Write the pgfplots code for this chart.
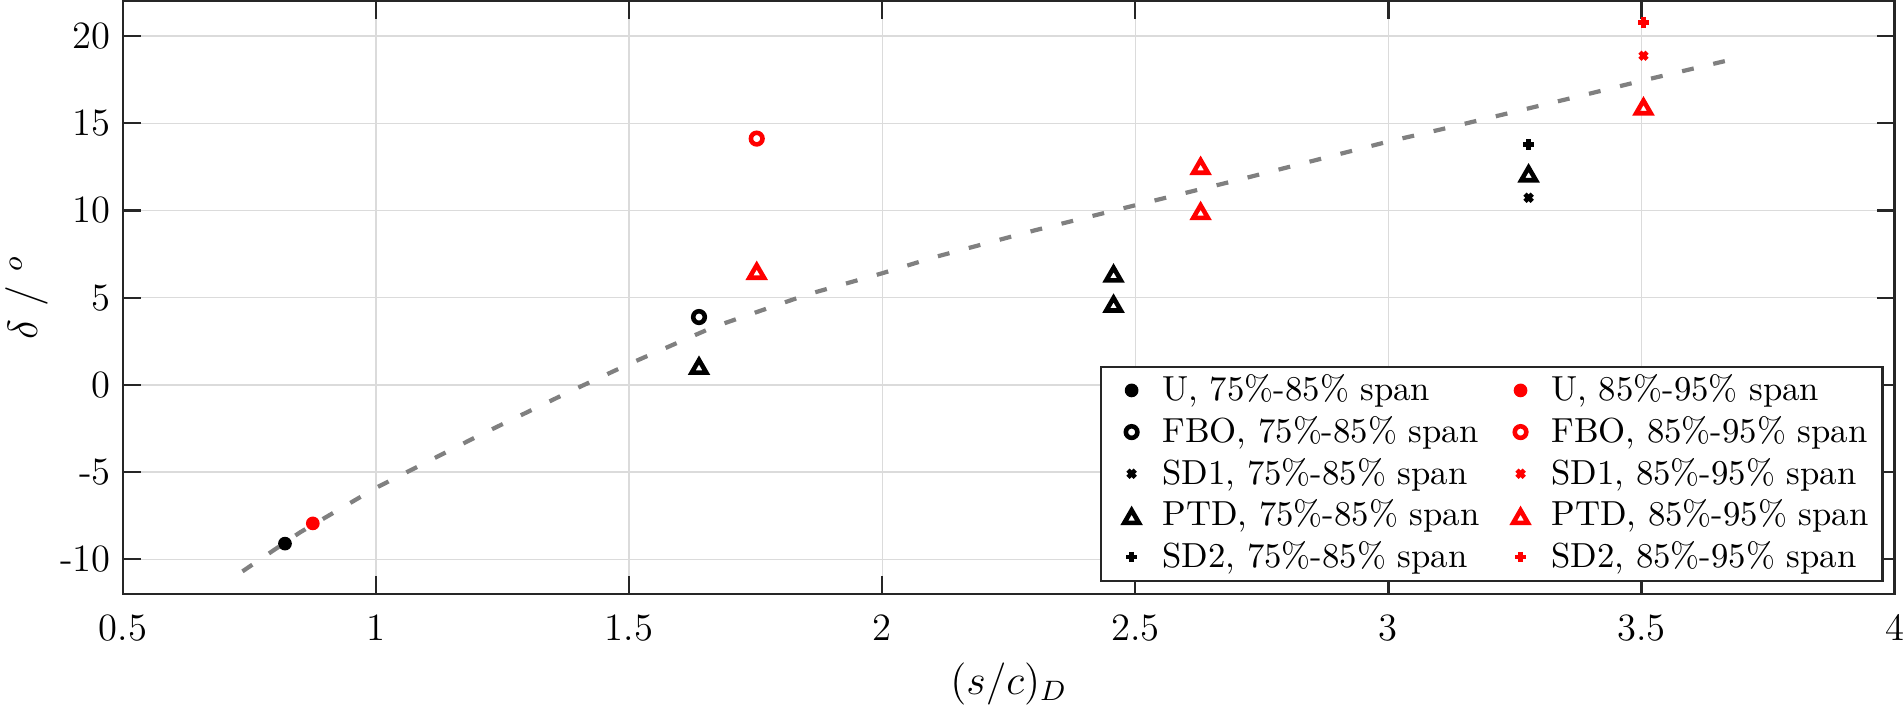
\documentclass[border=0pt]{standalone}
\usepackage{pgfplots}
\pgfplotsset{compat=1.18}
\definecolor{fitgray}{rgb}{0.5,0.5,0.5}
\begin{document}
\begin{tikzpicture}
\begin{axis}[
  scale only axis,
  width=504.5pt, height=168.9pt,
  xmin=0.5, xmax=4, ymin=-12, ymax=22,
  xtick={0.5,1,1.5,2,2.5,3,3.5,4},
  xticklabels={0.5,1,1.5,2,2.5,3,3.5,4},
  ytick={-10,-5,0,5,10,15,20},
  yticklabels={-10,-5,0,5,10,15,20},
  ticklabel style={font=\fontsize{11}{13}\selectfont},
  xticklabel style={inner xsep=0pt, yshift=-2.3pt},
  tick align=inside,
  major tick length=5.1pt,
  grid=major,
  grid style={black!14, line width=0.4pt},
  axis line style={black!85, line width=0.65pt},
  tick style={black!85, line width=0.65pt},
  xlabel={$(s/c)_D$},
  ylabel={$\delta$ / $^o$},
  label style={font=\fontsize{12.1}{14}\selectfont},
  xlabel style={inner ysep=1pt, yshift=-1.6pt},
  ylabel style={inner sep=1.5pt, yshift=-1.5pt},
  legend columns=2,
  legend cell align=left,
  legend image code/.code={%
    \path[draw=none,fill=none] (0pt,0pt) -- (13.66pt,0pt);
    \draw[#1,only marks] plot coordinates {(6.83pt,0pt)};},
  legend style={at={(0.9938,0.021)}, anchor=south east, draw=black!85, line width=0.6pt,
    font=\fontsize{9.9}{11.5}\selectfont,
    inner xsep=2pt, inner ysep=0.8pt,
    nodes={inner xsep=2pt, inner ysep=1.47pt},
    /tikz/every even column/.append style={column sep=2.85pt}},
]
\addplot[forget plot, color=fitgray, line width=1.2pt, dash pattern=on 3.4pt off 5.7pt] coordinates {
(0.736,-10.69) (0.85,-8.45) (1.0,-5.9) (1.2,-2.95) (1.385,-0.35) (1.5,1.2) (1.666,3.31) (1.853,5.19)
(2.0,6.4) (2.103,7.32) (2.3,8.85) (2.5,10.3) (2.695,11.69) (3.0,13.95) (3.119,14.75) (3.384,16.6)
(3.5,17.43) (3.695,18.77)};
% U
\addplot[only marks, mark=*, mark size=1.75pt, line width=0.4pt, black] coordinates {(0.82,-9.1)};
\addlegendentry{U, 75\%-85\% span}
\addplot[only marks, mark=*, mark size=1.75pt, line width=0.4pt, red, mark options={fill=red}] coordinates {(0.875,-7.94)};
\addlegendentry{U, 85\%-95\% span}
% FBO
\addplot[only marks, mark=o, mark size=1.65pt, line width=1.3pt, black] coordinates {(1.638,3.89)};
\addlegendentry{FBO, 75\%-85\% span}
\addplot[only marks, mark=o, mark size=1.65pt, line width=1.3pt, red] coordinates {(1.752,14.12)};
\addlegendentry{FBO, 85\%-95\% span}
% SD1
\addplot[only marks, mark=x, mark size=1.45pt, line width=1.3pt, black] coordinates {(3.277,10.73)};
\addlegendentry{SD1, 75\%-85\% span}
\addplot[only marks, mark=x, mark size=1.45pt, line width=1.3pt, red] coordinates {(3.504,18.87)};
\addlegendentry{SD1, 85\%-95\% span}
% PTD
\addplot[only marks, mark=triangle, mark size=2.4pt, line width=1.3pt, black, mark options={yshift=-0.92pt}] coordinates {(1.638,1.13) (2.457,6.42) (2.457,4.69) (3.277,12.16)};
\addlegendentry{PTD, 75\%-85\% span}
\addplot[only marks, mark=triangle, mark size=2.4pt, line width=1.3pt, red, mark options={yshift=-0.92pt}] coordinates {(1.752,6.57) (2.629,12.59) (2.629,10.0) (3.504,16.0)};
\addlegendentry{PTD, 85\%-95\% span}
% SD2
\addplot[only marks, mark=+, mark size=1.5pt, line width=1.3pt, black] coordinates {(3.277,13.77)};
\addlegendentry{SD2, 75\%-85\% span}
\addplot[only marks, mark=+, mark size=1.5pt, line width=1.3pt, red] coordinates {(3.504,20.79)};
\addlegendentry{SD2, 85\%-95\% span}
\end{axis}
\end{tikzpicture}
\end{document}
